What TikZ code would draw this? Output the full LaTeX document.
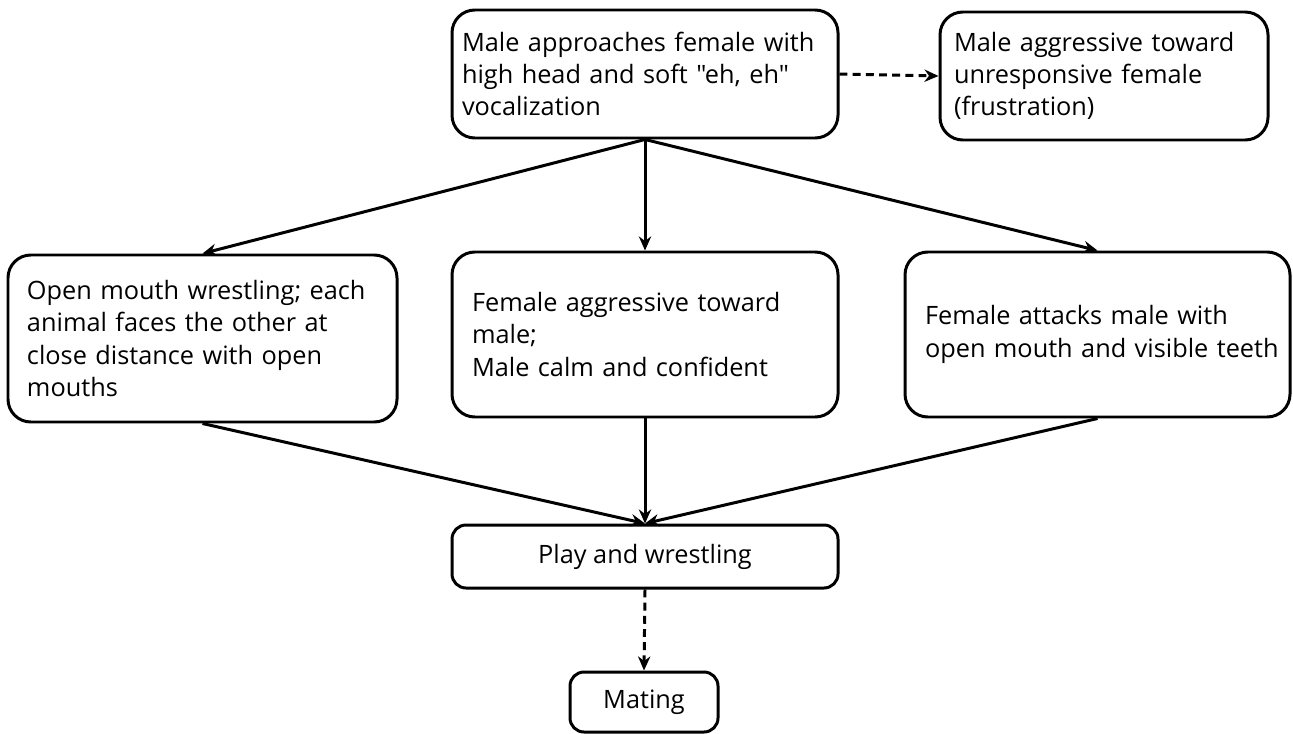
\documentclass[tikz,border=0pt]{standalone}
\usepackage{fontspec}
\setmainfont{Open Sans}[Ligatures=TeXOff]
\usepackage{tikz}
\usetikzlibrary{arrows.meta, positioning}

\begin{document}
\begin{tikzpicture}[x=0.02cm, y=-0.02cm,
		box/.style={draw, line width=1.7pt, rounded corners=13pt, inner sep=0pt,
			font=\fontsize{14.4}{18.4}\selectfont},
		flow/.style={line width=1.7pt, -{Stealth[length=8pt, width=7pt]}},
		dflow/.style={flow, dash pattern=on 4.5pt off 3pt}]
				\useasboundingbox (0, 0) rectangle (1293, 733);
				% Boxes:
				\node[box, minimum width=386*0.02cm, minimum height=128*0.02cm, text width=366*0.02cm, align=left](approach) at (645, 74){Male approaches female with\\high head and soft "eh, eh"\\vocalization};
				\node[box, minimum width=328*0.02cm, minimum height=128*0.02cm, text width=300*0.02cm, align=left](frustr) at (1104, 76){Male aggressive toward\\unresponsive female\\(frustration)};
				\node[box, minimum width=389*0.02cm, minimum height=167*0.02cm, text width=351*0.02cm, align=left](wrestle) at (202.5, 338.5){Open mouth wrestling; each\\animal faces the other at\\close distance with open\\mouths};
				\node[box, minimum width=386*0.02cm, minimum height=165*0.02cm, text width=346*0.02cm, align=left](femagg) at (645, 334.5){Female aggressive toward\\male;\\Male calm and confident};
				\node[box, minimum width=385*0.02cm, minimum height=165*0.02cm, text width=345*0.02cm, align=left](attack) at (1097.5, 334.5){Female attacks male with\\\mbox{open mouth and visible teeth}};
				\node[box, rounded corners=8pt, minimum width=386*0.02cm, minimum height=63*0.02cm](play) at (645, 556.5){Play and wrestling};
				\node[box, rounded corners=8pt, minimum width=148*0.02cm, minimum height=60*0.02cm](mating) at (644, 702){Mating};
				% Arrows:
				\draw[dflow] (approach.east) -- (frustr.west);
				\draw[flow] (approach.south) -- (wrestle.north);
				\draw[flow] (approach.south) -- (femagg.north);
				\draw[flow] (approach.south) -- (attack.north);
				\draw[flow] (wrestle.south) -- (play.north);
				\draw[flow] (femagg.south) -- (play.north);
				\draw[flow] (attack.south) -- (play.north);
				\draw[dflow] (play.south) -- (mating.north);
			\end{tikzpicture}
\end{document}
